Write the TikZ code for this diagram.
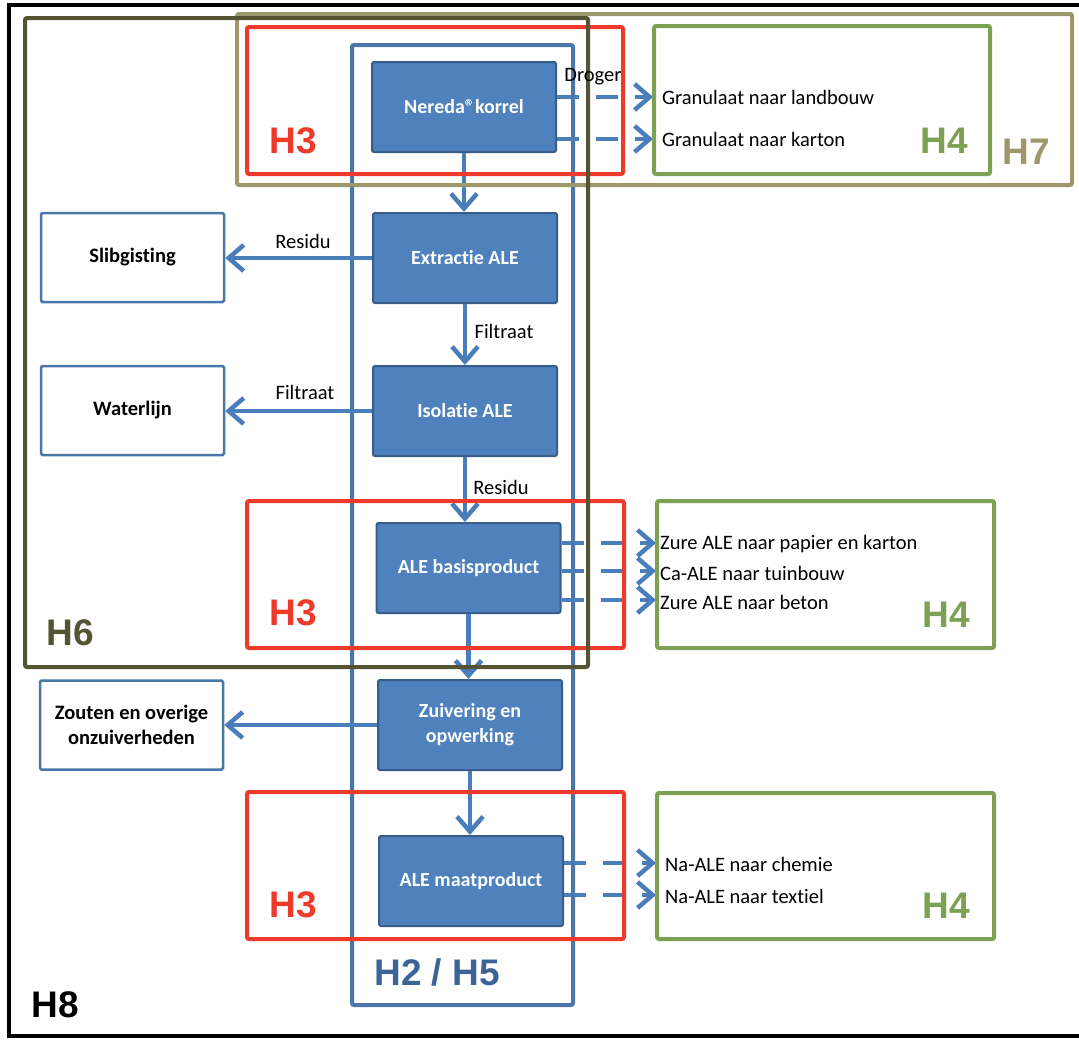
\documentclass[tikz,border=0pt]{standalone}
\usepackage{fontspec}
\setmainfont{Carlito}[Ligatures=NoCommon]
\newfontfamily\hfont{Liberation Sans}
\usetikzlibrary{arrows.meta}
\definecolor{nodefill}{RGB}{79,129,189}
\definecolor{nodeborder}{RGB}{56,93,138}
\definecolor{arrowblue}{RGB}{74,126,187}
\definecolor{colblue}{RGB}{74,118,168}
\definecolor{coltext}{RGB}{60,100,150}
\definecolor{hred}{RGB}{238,58,42}
\definecolor{hgreen}{RGB}{125,161,82}
\definecolor{hkhaki}{RGB}{158,151,106}
\definecolor{holive}{RGB}{84,84,52}
\tikzset{
 proc/.style={draw=nodeborder, fill=nodefill, line width=2pt, rounded corners=2pt, text=white,
   font=\bfseries\fontsize{20}{25}\selectfont, align=center, minimum width=184pt, minimum height=90pt, inner sep=0pt},
 outbox/.style={draw=colblue, fill=white, line width=2.5pt, rounded corners=1.5pt,
   font=\bfseries\fontsize{20.5}{25}\selectfont, align=center, minimum width=183pt, minimum height=89pt, inner sep=0pt},
 flow/.style={draw=arrowblue, line width=4.5pt, -{Straight Barb[length=15pt,width=26pt]}},
 dflow/.style={flow, dash pattern=on 22pt off 17pt},
 lbl/.style={font=\fontsize{20.5}{24}\selectfont, inner sep=0pt},
 tlbl/.style={font=\fontsize{20.5}{24}\selectfont, inner sep=0pt, anchor=west},
 frame/.style={line width=4pt, rounded corners=2pt},
 hlbl/.style={font=\hfont\bfseries\fontsize{37}{40}\selectfont, inner sep=0pt}
}
\begin{document}
\begin{tikzpicture}[x=1pt,y=-1pt]
\useasboundingbox (0,0) rectangle (1079,1039);
\clip (0,0) rectangle (1079,1039);
% H2/H5 column
\draw[colblue, line width=4pt, rounded corners=2pt] (352,45) rectangle (573,1005);
\node[hlbl, text=coltext] (h25) at (437,972) {H2 / H5};
% process nodes
\node[proc] (nereda) at (464,107) {Nereda®korrel};
\node[proc] (extr) at (465,258) {Extractie ALE};
\node[proc] (isol) at (465,411) {Isolatie ALE};
\node[proc] (basis) at (468.5,568) {ALE basisproduct};
\node[proc] (zuiv) at (470,725) {Zuivering en\\opwerking};
\node[proc] (maat) at (471,881) {ALE maatproduct};
% side boxes
\node[outbox] (slib) at (132.5,257.5) {Slibgisting};
\node[outbox] (water) at (132.5,410.5) {Waterlijn};
\node[outbox] (zout) at (131.5,725) {Zouten en overige\\onzuiverheden};
% vertical flows
\draw[flow] (nereda.south) -- (nereda.south |- extr.north);
\draw[flow] (extr.south) -- (extr.south |- isol.north);
\draw[flow] (isol.south) -- (isol.south |- basis.north);
\draw[flow] (basis.south) -- (basis.south |- zuiv.north);
\draw[flow] (zuiv.south) -- (zuiv.south |- maat.north);
% horizontal flows
\draw[flow] (extr.west) -- (extr.west -| slib.east);
\draw[flow] (isol.west) -- (isol.west -| water.east);
\draw[flow] (zuiv.west) -- (zuiv.west -| zout.east);
% flow labels
\node[lbl] (lres1) at (303,241) {Residu};
\node[lbl] (lfil1) at (504,331) {Filtraat};
\node[lbl] (lfil2) at (305,392) {Filtraat};
\node[lbl] (lres2) at (501,487) {Residu};
% H4 targets
\coordinate (t1) at (653,97);
\coordinate (t2) at (653,139);
\coordinate (t3) at (656,543);
\coordinate (t4) at (656,571);
\coordinate (t5) at (656,600);
\coordinate (t6) at (656,863);
\coordinate (t7) at (656,895);
\draw[dflow] (nereda.east |- t1) -- (t1);
\draw[dflow] (nereda.east |- t2) -- (t2);
\draw[dflow] (basis.east |- t3) -- (t3);
\draw[dflow] (basis.east |- t4) -- (t4);
\draw[dflow] (basis.east |- t5) -- (t5);
\draw[dflow] (maat.east |- t6) -- (t6);
\draw[dflow] (maat.east |- t7) -- (t7);
\node[tlbl] (g1) at (662,97) {Granulaat naar landbouw};
\node[tlbl] (g2) at (662,139) {Granulaat naar karton};
\node[tlbl] (z1) at (660,544) {Zure ALE naar papier en karton};
\node[tlbl] (z2) at (660,573) {Ca-ALE naar tuinbouw};
\node[tlbl] (z3) at (660,602) {Zure ALE naar beton};
\node[tlbl] (n1) at (665,864) {Na-ALE naar chemie};
\node[tlbl] (n2) at (665,896) {Na-ALE naar textiel};
% red H3 frames
\draw[frame, hred] (247,27) rectangle (623,174);
\draw[frame, hred] (247,501) rectangle (624,648);
\draw[frame, hred] (247,792) rectangle (624,939);
\node[hlbl, text=hred] (h3a) at (293,141) {H3};
\node[hlbl, text=hred] (h3b) at (293,613) {H3};
\node[hlbl, text=hred] (h3c) at (293,905) {H3};
% green H4 frames
\draw[frame, hgreen] (654,26) rectangle (990,174);
\draw[frame, hgreen] (657,501) rectangle (994,648);
\draw[frame, hgreen] (657,793) rectangle (994,939);
\node[hlbl, text=hgreen] (h4a) at (944,141) {H4};
\node[hlbl, text=hgreen] (h4b) at (946,615) {H4};
\node[hlbl, text=hgreen] (h4c) at (946,906) {H4};
% H7 khaki frame
\draw[frame, hkhaki] (237,14) rectangle (1072,185);
\node[hlbl, text=hkhaki] (h7) at (1026,152) {H7};
% H6 olive frame
\draw[frame, holive] (25,18) rectangle (588,667);
\node[hlbl, text=holive] (h6) at (70,633) {H6};
\node[lbl] (drog) at (593,77) {Droger};
% H8 black frame
\draw[line width=4pt, black] (9,5) rectangle (1100,1036);
\node[hlbl, text=black] (h8) at (55,1005) {H8};
\end{tikzpicture}
\end{document}
